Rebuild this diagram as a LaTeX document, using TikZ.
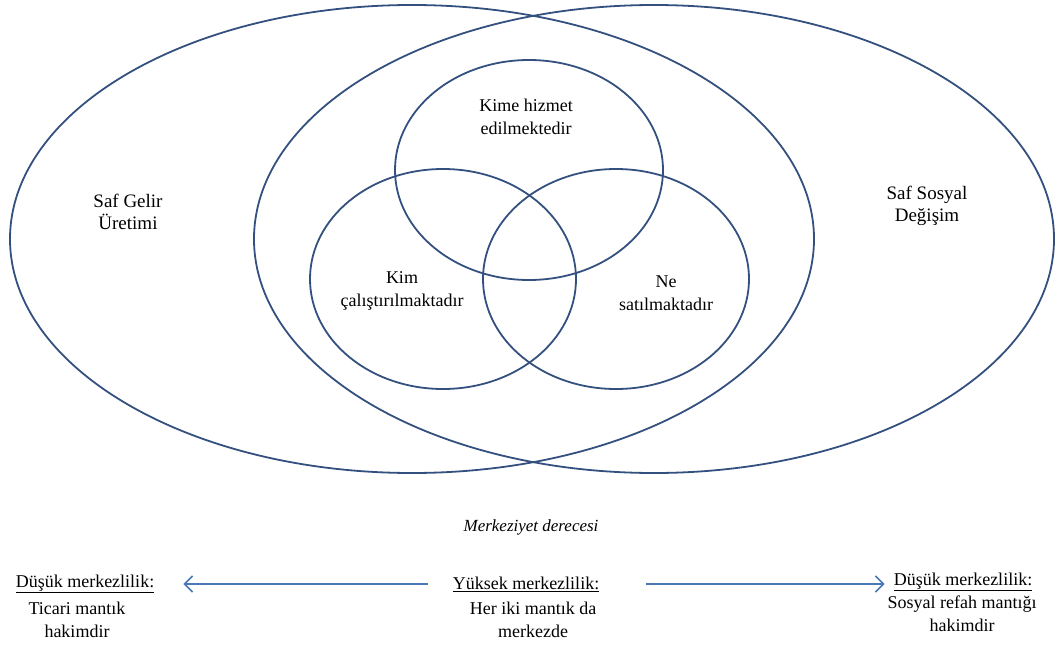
\documentclass[tikz,border=0pt]{standalone}
\usepackage{fontspec}
\setmainfont{Liberation Serif}
\usetikzlibrary{arrows.meta}
\definecolor{ring}{HTML}{34507F}
\definecolor{arr}{HTML}{4A78B4}
\tikzset{
  ringline/.style={draw=ring, line width=1.8pt},
  lbl/.style={align=center, font=\fontsize{18}{23}\selectfont, inner sep=0pt},
  small/.style={align=center, font=\fontsize{18}{23}\selectfont, inner sep=0pt},
  connector/.style={draw=arr, line width=1.6pt, -{Straight Barb[length=8pt,width=16pt,line width=1.6pt]}},
}
\begin{document}
\begin{tikzpicture}[x=1pt,y=-1pt]
\useasboundingbox (0,0) rectangle (1063,645);
% big ellipses
\draw[ringline] (412,239) ellipse [x radius=402, y radius=234];
\draw[ringline] (654,239) ellipse [x radius=400, y radius=234];
% inner circles
\draw[ringline] (529,170) ellipse [x radius=134, y radius=110];
\draw[ringline] (443,279) ellipse [x radius=133, y radius=110];
\draw[ringline] (616,279) ellipse [x radius=133, y radius=110];
% labels
\node[lbl, font=\fontsize{19}{22}\selectfont] (gelir) at (128,212) {Saf Gelir\\Üretimi};
\node[lbl, font=\fontsize{19}{22}\selectfont] (sosyal) at (927,206) {Saf Sosyal\\Değişim};
\node[lbl] (kime) at (526,117) {Kime hizmet\\edilmektedir};
\node[lbl] (kim) at (402,291) {Kim\\çalıştırılmaktadır};
\node[lbl] (ne) at (666,293) {Ne\\satılmaktadır};
\node[small, font=\fontsize{17}{20}\selectfont\itshape] (merk) at (531,527) {Merkeziyet derecesi};
% bottom
\node[small] (dusL) at (85,584) {\underline{Düşük merkezlilik:}};
\node[small, anchor=north] (dusLt) at (77,602) {Ticari mantık\\hakimdir};
\node[small] (yuk) at (526,584) {\underline{Yüksek merkezlilik:}};
\node[small, anchor=north] (yukt) at (533,602) {Her iki mantık da\\merkezde};
\node[small] (dusR) at (963,582) {\underline{Düşük merkezlilik:}};
\node[small, anchor=north] (dusRt) at (962,596) {Sosyal refah mantığı\\hakimdir};
\draw[connector, shorten <=25pt, shorten >=29pt] (yuk.west) -- (dusL.east |- yuk.west);
\draw[connector, shorten <=47pt, shorten >=9pt] (yuk.east) -- (dusR.west |- yuk.east);
\end{tikzpicture}
\end{document}
